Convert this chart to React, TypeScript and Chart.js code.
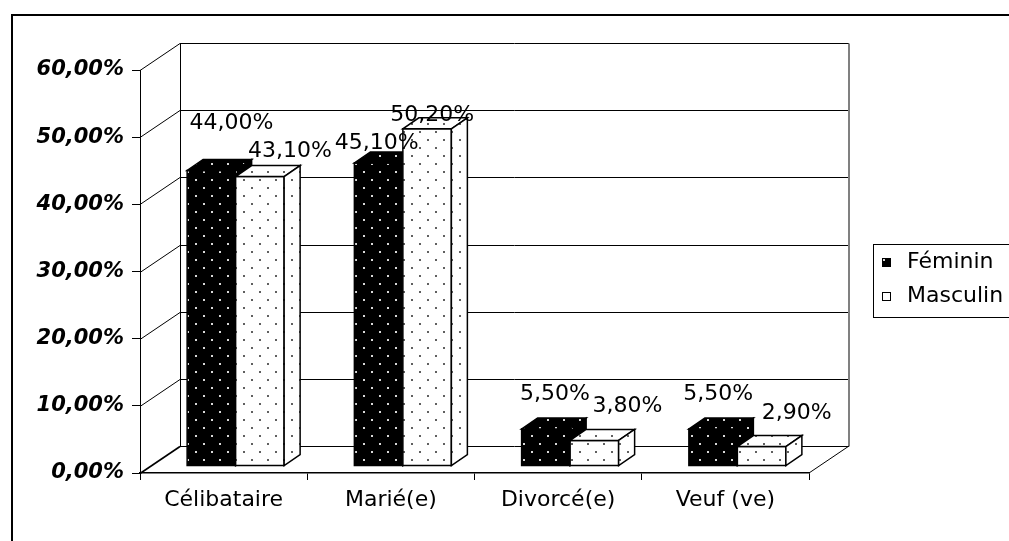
import React, { useEffect, useRef } from 'react';
import { Chart, registerables } from 'chart.js';

Chart.register(...registerables);

// ---------- data ----------
const categories = ['Célibataire', 'Marié(e)', 'Divorcé(e)', 'Veuf (ve)'];
const seriesNames = ['Féminin', 'Masculin'];
const feminin = [0.44, 0.451, 0.055, 0.055];
const masculin = [0.431, 0.502, 0.038, 0.029];
const yTicks = [0, 0.1, 0.2, 0.3, 0.4, 0.5, 0.6];

// label nudges (style) relative to the top-front centre of each bar
const nudgeFeminin = [[20, -47], [-2, -20], [9, -35], [5, -35]];
const nudgeMasculin = [[30, -25], [5, -14], [33, -34], [35, -33]];

// ---------- 3D geometry (style) ----------
const WALL_DX = 40;
const WALL_DY = -27;
const BAR_DX = 12;
const BAR_DY = -7;
const DEPTH_DX = 16;
const DEPTH_DY = -11;

const FONT = '"DejaVu Sans", "Liberation Sans", Arial, sans-serif';

const fmt = (v: number) => (v * 100).toFixed(2).replace('.', ',') + '%';

function makePattern(bg: string, dot: string): CanvasPattern | string {
  const c = document.createElement('canvas');
  c.width = 16;
  c.height = 16;
  const g = c.getContext('2d');
  if (!g) return bg;
  g.fillStyle = bg;
  g.fillRect(0, 0, 16, 16);
  g.fillStyle = dot;
  g.fillRect(3, 3, 2, 2);
  g.fillRect(11, 11, 2, 2);
  const ctx = document.createElement('canvas').getContext('2d');
  return (ctx && ctx.createPattern(c, 'repeat')) || bg;
}

function line(ctx: CanvasRenderingContext2D, x0: number, y0: number, x1: number, y1: number) {
  ctx.beginPath();
  ctx.moveTo(x0, y0);
  ctx.lineTo(x1, y1);
  ctx.stroke();
}

export default function App() {
  const ref = useRef<HTMLCanvasElement>(null);

  useEffect(() => {
    if (!ref.current) return;
    const patBlack = makePattern('#000000', '#d8d8d8');
    const patWhite = makePattern('#ffffff', '#606060');
    const patterns = [patBlack, patWhite];
    const nudges = [nudgeFeminin, nudgeMasculin];

    const threeD = {
      id: 'threeD',
      beforeDatasetsDraw(chart: any) {
        const { ctx, chartArea: a, scales } = chart;
        const y = scales.y;
        ctx.save();
        ctx.strokeStyle = '#000';
        ctx.lineWidth = 1;
        const bx0 = a.left + WALL_DX;
        const bx1 = a.right + WALL_DX;
        yTicks.forEach((v) => {
          const fy = Math.round(y.getPixelForValue(v)) + 0.5;
          const by = fy + WALL_DY;
          ctx.lineWidth = v === 0 ? 1.6 : 1;
          line(ctx, a.left, fy, bx0, by);
          ctx.lineWidth = 1;
          line(ctx, bx0, by, bx1, by);
        });
        const topB = Math.round(y.getPixelForValue(0.6)) + 0.5 + WALL_DY;
        const botB = Math.round(y.getPixelForValue(0)) + 0.5 + WALL_DY;
        line(ctx, bx0 + 0.5, topB, bx0 + 0.5, botB);
        ctx.strokeStyle = '#808080';
        ctx.lineWidth = 2;
        line(ctx, bx1, topB, bx1, botB);
        ctx.strokeStyle = '#000';
        ctx.lineWidth = 1;
        line(ctx, a.right, a.bottom, bx1, a.bottom + WALL_DY);
        ctx.restore();
      },
      afterDatasetsDraw(chart: any) {
        const { ctx } = chart;
        ctx.save();
        // bars
        const labels: Array<[string, number, number]> = [];
        chart.data.datasets.forEach((ds: any, di: number) => {
          const meta = chart.getDatasetMeta(di);
          meta.data.forEach((el: any, i: number) => {
            const p = el.getProps(['x', 'y', 'base', 'width'], true);
            const x0 = p.x - p.width / 2 + BAR_DX;
            const x1 = x0 + p.width;
            const t = p.y + BAR_DY;
            const b = p.base + BAR_DY;
            ctx.fillStyle = patterns[di];
            ctx.strokeStyle = '#000';
            ctx.lineWidth = 1.5;
            ctx.lineJoin = 'miter';
            // front
            ctx.beginPath();
            ctx.rect(x0, t, x1 - x0, b - t);
            ctx.fill();
            ctx.stroke();
            // top
            ctx.beginPath();
            ctx.moveTo(x0, t);
            ctx.lineTo(x1, t);
            ctx.lineTo(x1 + DEPTH_DX, t + DEPTH_DY);
            ctx.lineTo(x0 + DEPTH_DX, t + DEPTH_DY);
            ctx.closePath();
            ctx.fill();
            ctx.stroke();
            // side
            ctx.beginPath();
            ctx.moveTo(x1, t);
            ctx.lineTo(x1 + DEPTH_DX, t + DEPTH_DY);
            ctx.lineTo(x1 + DEPTH_DX, b + DEPTH_DY);
            ctx.lineTo(x1, b);
            ctx.closePath();
            ctx.fill();
            ctx.stroke();
            const n = nudges[di][i];
            labels.push([fmt(ds.data[i]), (x0 + x1) / 2 + n[0], t + n[1]]);
          });
        });
        ctx.fillStyle = '#000';
        ctx.font = '22px ' + FONT;
        ctx.textAlign = 'center';
        ctx.textBaseline = 'middle';
        labels.forEach(([s, lx, ly]) => ctx.fillText(s, lx, ly));
        ctx.restore();
      },
      afterDraw(chart: any) {
        const { ctx } = chart;
        ctx.save();
        // outer frame
        ctx.strokeStyle = '#000';
        ctx.lineWidth = 2;
        ctx.strokeRect(12, 15, 1200, 800);
        // legend
        ctx.lineWidth = 1;
        ctx.strokeRect(873.5, 244.5, 300, 73);
        const rows = [262, 296];
        ctx.font = '22px ' + FONT;
        ctx.textAlign = 'left';
        ctx.textBaseline = 'middle';
        seriesNames.forEach((name, i) => {
          const cy = rows[i];
          ctx.fillStyle = patterns[i];
          ctx.fillRect(882, cy - 4, 9, 9);
          ctx.strokeStyle = '#000';
          ctx.strokeRect(882.5, cy - 3.5, 8, 8);
          ctx.fillStyle = '#000';
          ctx.fillText(name, 907, cy);
        });
        ctx.restore();
      },
    };

    const chart = new Chart(ref.current, {
      type: 'bar',
      data: {
        labels: categories,
        datasets: [
          { label: seriesNames[0], data: feminin, backgroundColor: 'rgba(0,0,0,0)', borderWidth: 0 },
          { label: seriesNames[1], data: masculin, backgroundColor: 'rgba(0,0,0,0)', borderWidth: 0 },
        ],
      },
      options: {
        responsive: false,
        animation: false,
        devicePixelRatio: 1,
        layout: { padding: { left: 12, top: 70, right: 200, bottom: 0 } },
        datasets: { bar: { categoryPercentage: 0.58, barPercentage: 1 } },
        plugins: { legend: { display: false }, tooltip: { enabled: false } },
        scales: {
          x: {
            afterFit: (s: any) => { s.height = 68; },
            grid: { drawOnChartArea: false, drawTicks: true, tickLength: 7, color: '#000', offset: true },
            border: { display: true, color: '#000', width: 1.5 },
            ticks: { color: '#000', padding: 7, font: { family: FONT, size: 22 }, maxRotation: 0, autoSkip: false },
          },
          y: {
            min: 0,
            max: 0.6,
            afterFit: (s: any) => { s.width = 128; },
            afterBuildTicks: (s: any) => { s.ticks = yTicks.map((v) => ({ value: v })); },
            grid: { drawOnChartArea: false, drawTicks: true, tickLength: 8, color: '#000' },
            border: { display: true, color: '#000', width: 1 },
            ticks: {
              color: '#000',
              padding: 8,
              font: { family: FONT, size: 21, style: 'italic', weight: 'bold' },
              callback: (v: any) => fmt(Number(v)),
            },
          },
        },
      },
      plugins: [threeD],
    } as any);

    return () => chart.destroy();
  }, []);

  return (
    <div style={{ position: 'absolute', left: 0, top: 0, width: 1009, height: 541, background: '#fff' }}>
      <canvas ref={ref} width={1009} height={541} style={{ display: 'block' }} />
    </div>
  );
}
